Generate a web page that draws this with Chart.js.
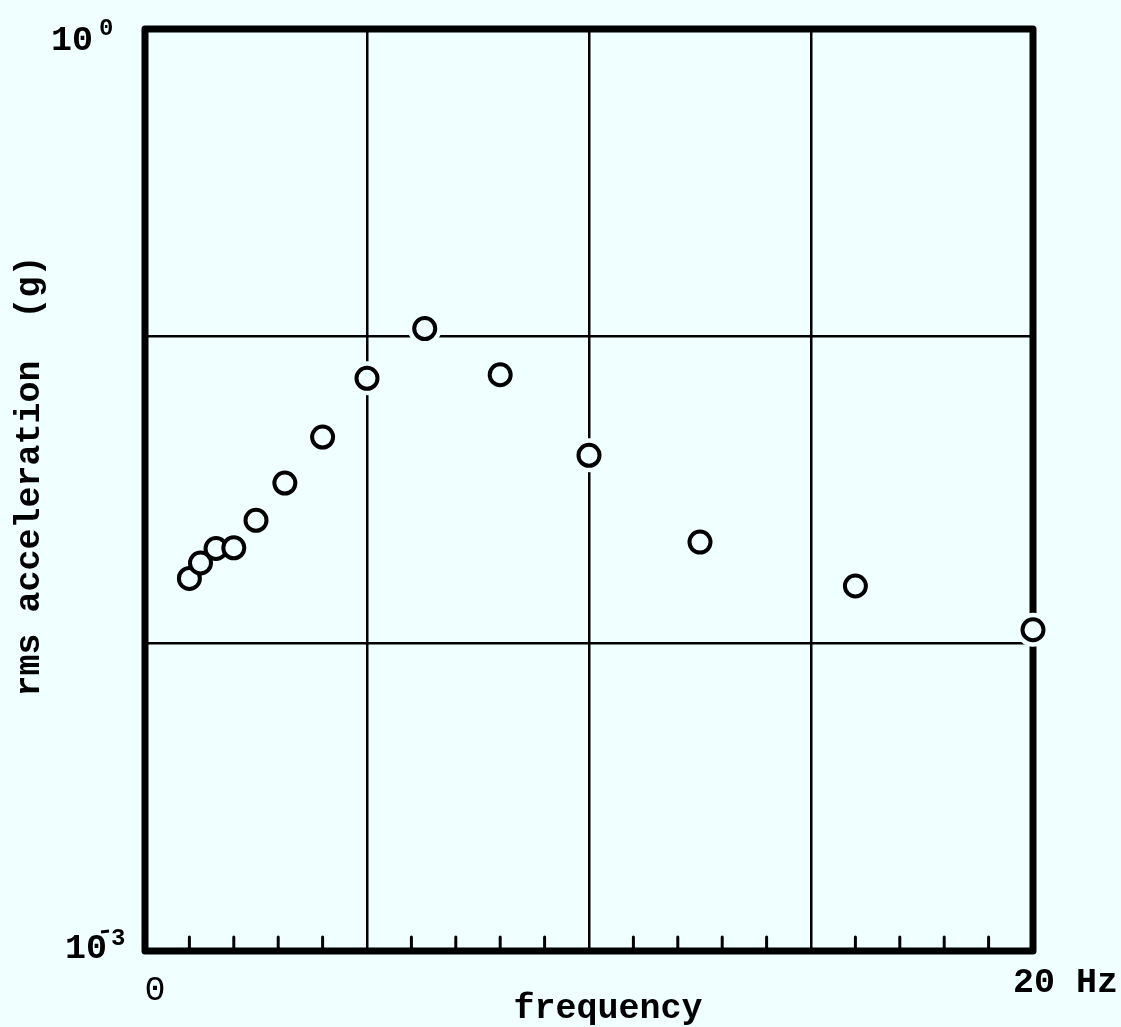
<!DOCTYPE html>
<html lang="en">
<head>
    <meta charset="UTF-8">
    <title>rms acceleration vs frequency</title>
    <script src="https://cdn.jsdelivr.net/npm/chart.js"></script>
    <style>
        body { margin: 0; background-color: #f0ffff; }
        .wrap { position: relative; width: 1121px; height: 1027px; }
    </style>
</head>
<body>
    <div class="wrap">
        <canvas id="accelChart"></canvas>
    </div>

    <script>
        // 1/3-octave band centres (Hz) and measured rms acceleration (g)
        const frequency = [1, 1.25, 1.6, 2, 2.5, 3.15, 4, 5, 6.3, 8, 10, 12.5, 16, 20];
        const rmsAccel = [0.0163, 0.0183, 0.0204, 0.0205, 0.0252, 0.0333, 0.047, 0.073, 0.106, 0.075, 0.041, 0.0214, 0.0154, 0.0111];

        // axis ranges and labels
        const xMin = 0, xMax = 20;
        const xMajorLines = [5, 10, 15];
        const xEndLabels = ['0', '20 Hz'];
        const yDecades = [0.001, 0.01, 0.1, 1];
        const yInnerLines = [0.01, 0.1];
        const yLabelBase = '10';
        const yTopExp = '0';
        const yBottomExp = '3';
        const xTitle = 'frequency';
        const yTitle = 'rms acceleration  (g)';

        const BG = '#f0ffff';
        const INK = '#000';
        const FONT = '"Liberation Mono", "DejaVu Sans Mono", monospace';

        // frame, minor ticks along the bottom edge
        const framePlugin = {
            id: 'frame',
            beforeDatasetsDraw(chart) {
                const { ctx, chartArea: a, scales } = chart;
                ctx.save();
                ctx.strokeStyle = INK;
                ctx.lineCap = 'round';
                ctx.lineWidth = 3;
                scales.x.ticks.forEach(t => {
                    if (t.value % 5 === 0) return;
                    const px = scales.x.getPixelForValue(t.value);
                    ctx.beginPath();
                    ctx.moveTo(px, a.bottom);
                    ctx.lineTo(px, a.bottom - 14);
                    ctx.stroke();
                });
                ctx.lineWidth = 7;
                ctx.lineJoin = 'round';
                ctx.strokeRect(a.left, a.top, a.right - a.left, a.bottom - a.top);
                ctx.restore();
            }
        };

        // tick labels and axis titles
        const labelPlugin = {
            id: 'labels',
            afterDraw(chart) {
                const { ctx, chartArea: a, scales } = chart;
                ctx.save();
                ctx.fillStyle = INK;
                ctx.textBaseline = 'alphabetic';

                // x end labels
                ctx.font = '35px ' + FONT;
                ctx.textAlign = 'center';
                ctx.fillText(xEndLabels[0], scales.x.getPixelForValue(xMin) + 10, a.bottom + 49);
                ctx.font = 'bold 35px ' + FONT;
                ctx.textAlign = 'left';
                ctx.fillText(xEndLabels[1], scales.x.getPixelForValue(xMax) - 20, a.bottom + 41);

                // x title
                ctx.textAlign = 'center';
                ctx.fillText(xTitle, (a.left + a.right) / 2 + 19, a.bottom + 67);

                // y decade labels
                const yTop = scales.y.getPixelForValue(yDecades[yDecades.length - 1]);
                const yBot = scales.y.getPixelForValue(yDecades[0]);
                ctx.textAlign = 'right';
                ctx.fillText(yLabelBase, a.left - 52, yTop + 21);
                ctx.fillText(yLabelBase, a.left - 38, yBot + 7);
                ctx.font = 'bold 24px ' + FONT;
                ctx.textAlign = 'left';
                ctx.fillText(yTopExp, a.left - 46, yTop + 6);
                ctx.fillText(yBottomExp, a.left - 34, yBot - 6);
                ctx.lineWidth = 3;
                ctx.beginPath();
                ctx.moveTo(a.left - 44, yBot - 19);
                ctx.lineTo(a.left - 36, yBot - 20);
                ctx.stroke();

                // y title
                ctx.font = 'bold 35px ' + FONT;
                ctx.translate(30, 476);
                ctx.rotate(-Math.PI / 2);
                ctx.textAlign = 'center';
                ctx.textBaseline = 'middle';
                ctx.fillText(yTitle, 0, 0);
                ctx.restore();
            }
        };

        const points = frequency.map((f, i) => ({ x: f, y: rmsAccel[i] }));

        new Chart(document.getElementById('accelChart'), {
            type: 'scatter',
            data: {
                datasets: [
                    {
                        // open circles
                        data: points,
                        order: 1,
                        pointRadius: 10.5,
                        pointBorderWidth: 4,
                        pointBorderColor: INK,
                        pointBackgroundColor: BG,
                        clip: false
                    },
                    {
                        // clear gap around each circle where it crosses a line
                        data: points,
                        order: 2,
                        pointRadius: 17,
                        pointBorderWidth: 0,
                        pointBackgroundColor: BG,
                        clip: false
                    }
                ]
            },
            options: {
                responsive: true,
                maintainAspectRatio: false,
                animation: false,
                events: [],
                layout: { padding: { left: 145, right: 88, top: 29, bottom: 76 } },
                plugins: { legend: { display: false }, tooltip: { enabled: false } },
                scales: {
                    x: {
                        type: 'linear', min: xMin, max: xMax,
                        ticks: { display: false, stepSize: 1 },
                        border: { display: false },
                        grid: {
                            drawTicks: false,
                            lineWidth: 2.5,
                            color: c => xMajorLines.includes(c.tick.value) ? INK : 'rgba(0,0,0,0)'
                        }
                    },
                    y: {
                        type: 'logarithmic', min: yDecades[0], max: yDecades[yDecades.length - 1],
                        afterBuildTicks: s => { s.ticks = yDecades.map(v => ({ value: v })); },
                        ticks: { display: false },
                        border: { display: false },
                        grid: {
                            drawTicks: false,
                            lineWidth: 2.5,
                            color: c => yInnerLines.includes(c.tick.value) ? INK : 'rgba(0,0,0,0)'
                        }
                    }
                }
            },
            plugins: [framePlugin, labelPlugin]
        });
    </script>
</body>
</html>
